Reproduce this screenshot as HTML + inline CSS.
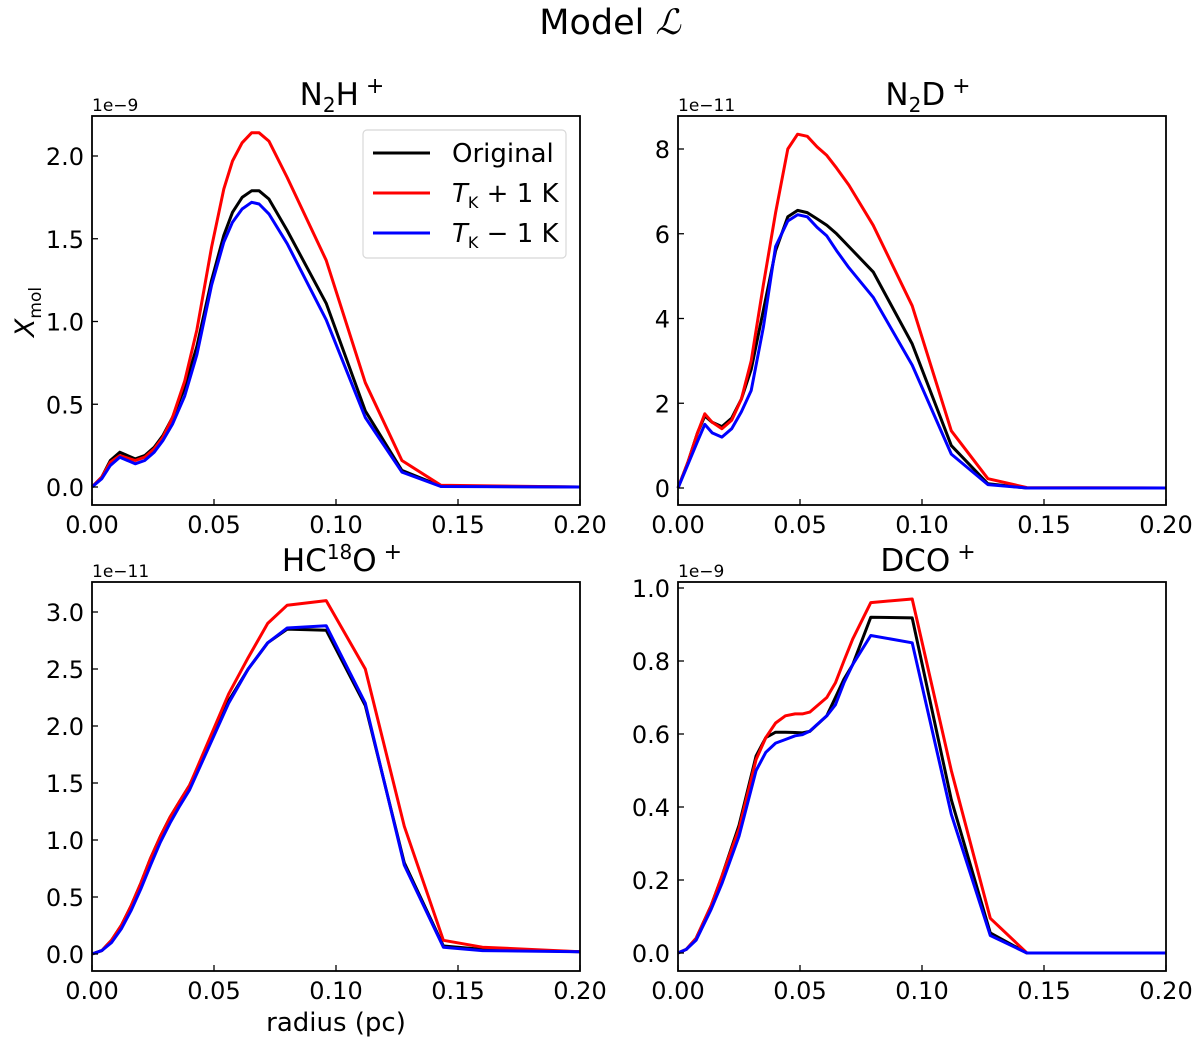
<!DOCTYPE html>
<html><head><meta charset="utf-8">
<style>
body{margin:0;background:#fff;}
svg{display:block;font-family:"DejaVu Sans","Liberation Sans",sans-serif;}
</style></head>
<body>
<svg id="fig" width="1200" height="1046" viewBox="0 0 1200 1046">
<text x="610" y="34" font-size="35" text-anchor="middle">Model <tspan font-style="italic" font-family="Liberation Serif,serif">ℒ</tspan></text>
<text transform="translate(34,312) rotate(-90)" font-size="27" text-anchor="middle"><tspan font-style="italic">X</tspan><tspan font-size="17" dy="7">mol</tspan></text>
<text x="336" y="1031" font-size="26" text-anchor="middle">radius (pc)</text>
</svg>
<script>
const colors={orig:"#000000",plus:"#ff0000",minus:"#0000ff"};
// Panel 1 N2H+
const p1X=[0,0.004,0.0075,0.0114,0.0177,0.0216,0.0255,0.029,0.033,0.038,0.043,0.049,0.054,0.0576,0.0615,0.0654,0.0685,0.0725,0.080,0.096,0.112,0.127,0.143,0.2];
const p1Orig=[0,0.06,0.16,0.21,0.17,0.19,0.24,0.31,0.42,0.60,0.85,1.25,1.52,1.66,1.75,1.79,1.79,1.74,1.55,1.11,0.46,0.10,0.005,0];
const p1Plus=[0,0.06,0.15,0.19,0.16,0.18,0.23,0.30,0.42,0.64,0.95,1.45,1.80,1.97,2.08,2.14,2.14,2.09,1.87,1.37,0.63,0.16,0.01,0];
const p1Minus=[0,0.05,0.13,0.18,0.14,0.16,0.21,0.28,0.38,0.55,0.80,1.22,1.48,1.60,1.68,1.72,1.71,1.65,1.47,1.01,0.42,0.09,0.003,0];
// Panel 2 N2D+
const p2X=[0,0.004,0.008,0.011,0.014,0.018,0.022,0.026,0.030,0.035,0.040,0.045,0.049,0.053,0.057,0.061,0.065,0.070,0.080,0.096,0.112,0.127,0.143,0.2];
const p2Orig=[0,0.6,1.3,1.7,1.55,1.45,1.65,2.1,2.8,4.2,5.6,6.4,6.55,6.5,6.35,6.2,6.0,5.7,5.1,3.4,1.0,0.1,0,0];
const p2Plus=[0,0.6,1.3,1.75,1.55,1.4,1.6,2.1,3.0,4.8,6.5,8.0,8.35,8.3,8.05,7.85,7.55,7.15,6.2,4.3,1.35,0.22,0.01,0];
const p2Minus=[0,0.55,1.1,1.5,1.3,1.2,1.4,1.8,2.3,3.8,5.7,6.3,6.45,6.4,6.15,5.95,5.6,5.2,4.5,2.9,0.8,0.08,0,0];
// Panel 3 HC18O+
const p3X=[0,0.004,0.008,0.012,0.016,0.020,0.024,0.028,0.032,0.036,0.040,0.048,0.056,0.064,0.072,0.080,0.096,0.112,0.128,0.144,0.160,0.2];
const p3Orig=[0,0.03,0.12,0.25,0.42,0.62,0.84,1.03,1.2,1.34,1.48,1.85,2.22,2.5,2.73,2.85,2.84,2.18,0.80,0.07,0.04,0.02];
const p3Plus=[0,0.03,0.12,0.25,0.42,0.62,0.84,1.03,1.2,1.34,1.48,1.88,2.28,2.6,2.9,3.06,3.1,2.5,1.12,0.12,0.06,0.02];
const p3Minus=[0,0.03,0.10,0.22,0.38,0.57,0.78,0.98,1.15,1.30,1.44,1.82,2.2,2.5,2.73,2.86,2.88,2.2,0.78,0.06,0.03,0.02];
// Panel 4 DCO+
const p4X=[0,0.0034,0.0074,0.0136,0.018,0.025,0.032,0.036,0.040,0.044,0.048,0.051,0.054,0.061,0.0645,0.068,0.0716,0.079,0.096,0.112,0.128,0.143,0.2];
const p4Orig=[0,0.01,0.04,0.13,0.21,0.35,0.54,0.59,0.605,0.605,0.604,0.603,0.607,0.65,0.70,0.75,0.79,0.92,0.918,0.42,0.055,0,0];
const p4Plus=[0,0.01,0.04,0.13,0.21,0.34,0.53,0.59,0.63,0.65,0.655,0.655,0.66,0.70,0.74,0.80,0.86,0.96,0.97,0.50,0.095,0,0];
const p4Minus=[0,0.01,0.035,0.12,0.19,0.32,0.50,0.55,0.575,0.585,0.595,0.598,0.608,0.65,0.68,0.74,0.79,0.87,0.85,0.38,0.048,0,0];
const xTicks=[0,0.05,0.10,0.15,0.20];
const xTickLabels=["0.00","0.05","0.10","0.15","0.20"];
const p1YTicks=[0,0.5,1.0,1.5,2.0], p1YLabels=["0.0","0.5","1.0","1.5","2.0"];
const p2YTicks=[0,2,4,6,8], p2YLabels=["0","2","4","6","8"];
const p3YTicks=[0,0.5,1,1.5,2,2.5,3], p3YLabels=["0.0","0.5","1.0","1.5","2.0","2.5","3.0"];
const p4YTicks=[0,0.2,0.4,0.6,0.8,1.0], p4YLabels=["0.0","0.2","0.4","0.6","0.8","1.0"];

const NS="http://www.w3.org/2000/svg";
const svg=document.getElementById("fig");
function mk(tag,attrs,parent){const e=document.createElementNS(NS,tag);for(const k in attrs)e.setAttribute(k,attrs[k]);(parent||svg).appendChild(e);return e;}

const panels=[
 {name:"n2h",left:92,right:580,top:116,bottom:505,y0:487,yRefVal:2.0,yRefPix:156,x:p1X,s:[p1Orig,p1Plus,p1Minus],yt:p1YTicks,yl:p1YLabels,exp:"1e−9",title:'N<tspan font-size="20" dy="7">2</tspan><tspan dy="-7">H</tspan><tspan font-size="22" dy="-12"> +</tspan>'},
 {name:"n2d",left:678,right:1166,top:116,bottom:505,y0:488,yRefVal:8,yRefPix:149,x:p2X,s:[p2Orig,p2Plus,p2Minus],yt:p2YTicks,yl:p2YLabels,exp:"1e−11",title:'N<tspan font-size="20" dy="7">2</tspan><tspan dy="-7">D</tspan><tspan font-size="22" dy="-12"> +</tspan>'},
 {name:"hc18o",left:92,right:580,top:582,bottom:971,y0:954,yRefVal:3.0,yRefPix:612,x:p3X,s:[p3Orig,p3Plus,p3Minus],yt:p3YTicks,yl:p3YLabels,exp:"1e−11",title:'HC<tspan font-size="20" dy="-12">18</tspan><tspan dy="12">O</tspan><tspan font-size="22" dy="-12"> +</tspan>'},
 {name:"dco",left:678,right:1166,top:582,bottom:971,y0:953,yRefVal:1.0,yRefPix:588,x:p4X,s:[p4Orig,p4Plus,p4Minus],yt:p4YTicks,yl:p4YLabels,exp:"1e−9",title:'DCO<tspan font-size="22" dy="-12"> +</tspan>'}
];
const keys=["orig","plus","minus"];
panels.forEach(p=>{
 const g=mk("g",{});
 
 
 const xs=v=>p.left+(v/0.2)*(p.right-p.left);
 const ys=v=>p.y0-(v/p.yRefVal)*(p.y0-p.yRefPix);
 const t=mk("text",{x:(p.left+p.right)/2+6,y:p.top-11,"font-size":31,"text-anchor":"middle"},g);
 t.innerHTML=p.title;
 
 
 const ex=mk("text",{x:p.left,y:p.top-5,"font-size":17},g);
 ex.textContent=p.exp;
 
 
 p.s.forEach((arr,i)=>{
  const pts=arr.map((v,j)=>xs(p.x[j]).toFixed(1)+","+ys(v).toFixed(1)).join(" ");
  const pl=mk("polyline",{points:pts,fill:"none",stroke:colors[keys[i]],"stroke-width":3,"stroke-linejoin":"round"},g);
  
  
 });
 xTicks.forEach((v,i)=>{
  const x=xs(v);
  mk("line",{x1:x,x2:x,y1:p.bottom,y2:p.bottom-6,stroke:"#000","stroke-width":1.3},g);
  const tl=mk("text",{x:x,y:p.bottom+28,"font-size":24,"text-anchor":"middle"},g);
  tl.textContent=xTickLabels[i];
  
  
 });
 p.yt.forEach((v,i)=>{
  const y=ys(v);
  mk("line",{x1:p.left,x2:p.left+6,y1:y,y2:y,stroke:"#000","stroke-width":1.3},g);
  const tl=mk("text",{x:p.left-8,y:y+9,"font-size":24,"text-anchor":"end"},g);
  tl.textContent=p.yl[i];
  
  
 });
 const fr=mk("rect",{x:p.left,y:p.top,width:p.right-p.left,height:p.bottom-p.top,fill:"none",stroke:"#000","stroke-width":1.8},g);
 
 
});
// legend
const lg=mk("g",{});


mk("rect",{x:363,y:130,width:203,height:128,rx:4,fill:"#fff",stroke:"#d8d8d8","stroke-width":1.2},lg);
const legTexts=['Original','<tspan font-style="italic">T</tspan><tspan font-size="16" dy="6">K</tspan><tspan dy="-6"> + 1 K</tspan>','<tspan font-style="italic">T</tspan><tspan font-size="16" dy="6">K</tspan><tspan dy="-6"> − 1 K</tspan>'];
keys.forEach((k,i)=>{
 const y=153+i*40;
 const e=mk("g",{},lg);
 
 
 mk("line",{x1:373,x2:430,y1:y,y2:y,stroke:colors[k],"stroke-width":3},e);
 const t=mk("text",{x:452,y:y+9,"font-size":26},e);
 t.innerHTML=legTexts[i];
});
</script>
</body></html>
